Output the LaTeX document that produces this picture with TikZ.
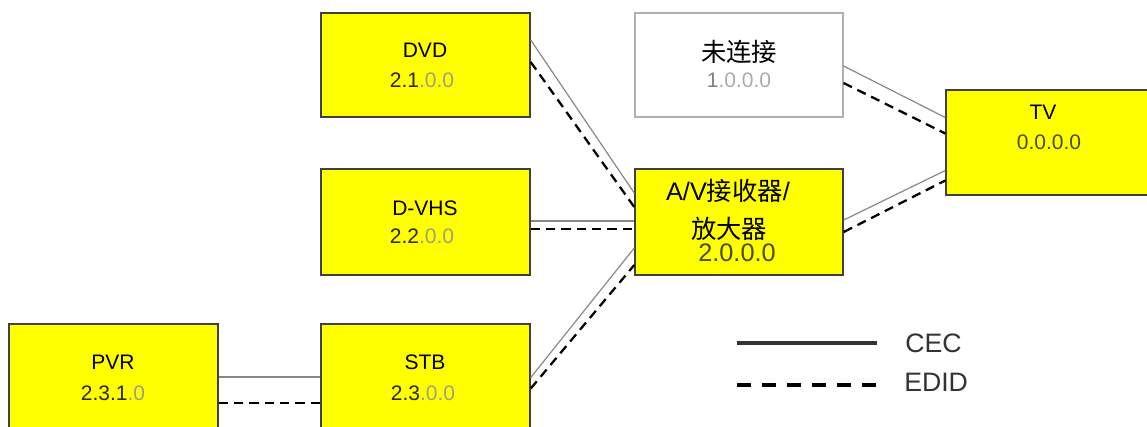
\documentclass[tikz,border=0pt]{standalone}
\usepackage{fontspec}
\setmainfont{Liberation Sans}
\newfontfamily\cjk{Noto Sans CJK SC}
\usetikzlibrary{calc}
\definecolor{boxborder}{HTML}{404040}
\definecolor{ncborder}{HTML}{B0B0B0}
\definecolor{dimnum}{HTML}{A0A080}
\definecolor{darknum}{HTML}{2A2A10}
\definecolor{olivenum}{HTML}{4A4A15}
\definecolor{ncdark}{HTML}{808080}
\definecolor{nclight}{HTML}{ABABAB}
\definecolor{cecline}{HTML}{888888}
\definecolor{pureyellow}{rgb}{1,1,0}
\tikzset{
  ybox/.style={draw=boxborder, line width=1.1pt, fill=pureyellow, inner sep=0pt},
  ncbox/.style={draw=ncborder, line width=0.9pt, fill=white, inner sep=0pt},
  lbl/.style={inner sep=0pt, font=\fontsize{15.75}{18}\selectfont},
  biglbl/.style={inner sep=0pt, font=\fontsize{19}{22}\selectfont},
  leglbl/.style={inner sep=0pt, anchor=west, font=\fontsize{20}{24}\selectfont, text=black!80},
  cec/.style={draw=cecline, line width=0.9pt},
  edid/.style={draw=black, line width=1.7pt, dash pattern=on 7pt off 4.5pt},
  legcec/.style={draw=black!80, line width=2.8pt},
  legedid/.style={draw=black, line width=2.8pt, dash pattern=on 10.5pt off 8.3pt}
}
\begin{document}
\begin{tikzpicture}[x=0.75pt,y=-0.75pt]
\clip (0,0) rectangle (1147,426);
\fill[white] (0,0) rectangle (1147,426);
% boxes
\node[ybox, minimum width=209*0.75pt, minimum height=104*0.75pt] (dvd) at (425.5,65) {};
\node[ybox, minimum width=209*0.75pt, minimum height=106*0.75pt] (dvhs) at (425.5,222) {};
\node[ybox, minimum width=209*0.75pt, minimum height=107*0.75pt] (pvr) at (113.5,377.5) {};
\node[ybox, minimum width=209*0.75pt, minimum height=107*0.75pt] (stb) at (425.5,377.5) {};
\node[ncbox, minimum width=208*0.75pt, minimum height=104*0.75pt] (nc) at (739,65) {};
\node[ybox, minimum width=208*0.75pt, minimum height=106*0.75pt] (av) at (739,222) {};
\node[ybox, minimum width=206*0.75pt, minimum height=105*0.75pt] (tv) at (1049,142.5) {};
% labels
\node[lbl] (dvdname) at (425,50) {DVD};
\node[lbl] (dvdaddr) at (422,80) {\textcolor{darknum}{2.1}\textcolor{dimnum}{.0.0}};
\node[lbl] (dvhsname) at (425,208) {D-VHS};
\node[lbl] (dvhsaddr) at (422,236) {\textcolor{darknum}{2.2}\textcolor{dimnum}{.0.0}};
\node[lbl] (pvrname) at (113,362) {PVR};
\node[lbl] (pvraddr) at (113,393) {\textcolor{darknum}{2.3.1}\textcolor{dimnum}{.0}};
\node[lbl] (stbname) at (425,362) {STB};
\node[lbl] (stbaddr) at (423,393) {\textcolor{darknum}{2.3}\textcolor{dimnum}{.0.0}};
\node[biglbl] (ncname) at (739,52) {\cjk 未连接};
\node[lbl] (ncaddr) at (739,80) {\textcolor{ncdark}{1}\textcolor{nclight}{.0.0.0}};
\node[biglbl] (avname1) at (728,191) {A/V{\cjk 接收器}/};
\node[biglbl] (avname2) at (729,229) {\cjk 放大器};
\node[biglbl, text=olivenum] (avaddr) at (737,253) {2.0.0.0};
\node[lbl] (tvname) at (1043,112) {TV};
\node[lbl, text=olivenum] (tvaddr) at (1049,142) {0.0.0.0};
% connectors
\draw[cec] ($(dvd.east)+(0,-25)$) -- ($(av.west)+(0,-29)$);
\draw[edid] ($(dvd.east)+(0,-3)$) -- ($(av.west)+(0,-15)$);
\draw[cec] ($(dvhs.east)+(0,-1)$) -- ($(av.west)+(0,-1)$);
\draw[edid] ($(dvhs.east)+(0,7)$) -- ($(av.west)+(0,7)$);
\draw[cec] (stb.east) -- ($(av.west)+(0,26)$);
\draw[edid] ($(stb.east)+(0,11)$) -- ($(av.west)+(0,43)$);
\draw[cec] ($(pvr.east)+(0,-0.5)$) -- ($(stb.west)+(0,-0.5)$);
\draw[edid] ($(pvr.east)+(0,25.5)$) -- ($(stb.west)+(0,25.5)$);
\draw[cec] ($(nc.east)+(0,1)$) -- ($(tv.west)+(0,-25)$);
\draw[edid] ($(nc.east)+(0,18)$) -- ($(tv.west)+(0,-9)$);
\draw[cec] ($(av.east)+(0,-2)$) -- ($(tv.west)+(0,28)$);
\draw[edid] ($(av.east)+(0,10)$) -- ($(tv.west)+(0,38)$);
% legend
\coordinate (cecA) at (737,343);
\coordinate (cecB) at (877,343);
\coordinate (edidA) at (737,385);
\coordinate (edidB) at (877,385);
\draw[legcec] (cecA) -- (cecB);
\draw[legedid] (edidA) -- (edidB);
\node[leglbl] (ceclbl) at (905,343) {CEC};
\node[leglbl] (edidlbl) at (904,382) {EDID};
\end{tikzpicture}
\end{document}
